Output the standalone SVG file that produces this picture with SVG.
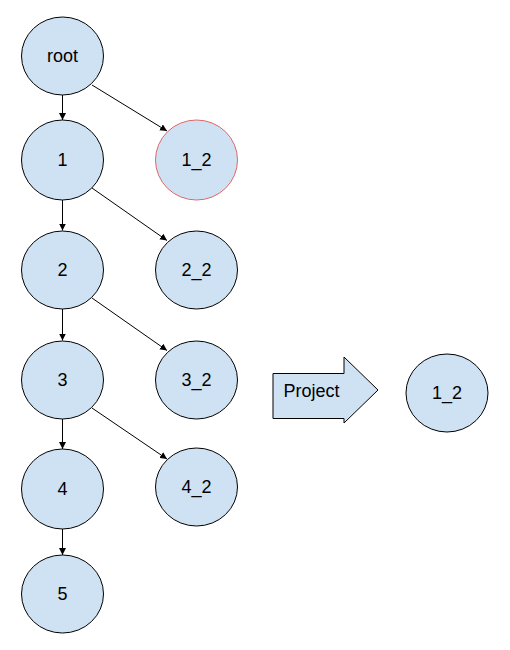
<svg xmlns="http://www.w3.org/2000/svg" width="510" height="650" viewBox="0 0 510 650">
<style>
.n{fill:#cfe2f3;stroke:#000;stroke-width:1}
.r{fill:#cfe2f3;stroke:#e06666;stroke-width:1}
.t{font-family:"Liberation Sans",Arial,sans-serif;font-size:18px;fill:#000;text-anchor:middle;dominant-baseline:central}
.e{stroke:#000;stroke-width:1;fill:none;marker-end:url(#ah)}
</style>
<defs>
<marker id="ah" viewBox="0 0 10 10" refX="10" refY="5" markerWidth="7" markerHeight="7" markerUnits="userSpaceOnUse" orient="auto">
<path d="M0,0 L10,5 L0,10 z" fill="#000"/>
</marker>
</defs>
<rect width="510" height="650" fill="#fff"/>
<g id="connectors">
<line class="e" x1="62.5" y1="95" x2="62.5" y2="120"/>
<line class="e" x1="62.5" y1="200" x2="62.5" y2="230.5"/>
<line class="e" x1="62.5" y1="309" x2="62.5" y2="340.5"/>
<line class="e" x1="62.5" y1="419" x2="62.5" y2="449"/>
<line class="e" x1="62.5" y1="528" x2="62.5" y2="555"/>
<line class="e" x1="92" y1="85" x2="167" y2="131"/>
<line class="e" x1="92" y1="188" x2="167" y2="240.5"/>
<line class="e" x1="92" y1="298" x2="167" y2="350.5"/>
<line class="e" x1="92" y1="408" x2="167" y2="459"/>
</g>
<g id="root"><ellipse class="n" cx="62.5" cy="56" rx="41" ry="39"/><text class="t" x="62.5" y="56">root</text></g>
<g id="n1"><ellipse class="n" cx="62.5" cy="160" rx="41" ry="40"/><text class="t" x="62.5" y="160">1</text></g>
<g id="n2"><ellipse class="n" cx="62.5" cy="270" rx="41" ry="39"/><text class="t" x="62.5" y="270">2</text></g>
<g id="n3"><ellipse class="n" cx="62.5" cy="380" rx="41" ry="39"/><text class="t" x="62.5" y="380">3</text></g>
<g id="n4"><ellipse class="n" cx="62.5" cy="489" rx="41" ry="40"/><text class="t" x="62.5" y="489">4</text></g>
<g id="n5"><ellipse class="n" cx="62.5" cy="594" rx="41" ry="39"/><text class="t" x="62.5" y="594">5</text></g>
<g id="n1_2"><ellipse class="r" cx="196.5" cy="160" rx="41" ry="40"/><text class="t" x="196.5" y="160">1_2</text></g>
<g id="n2_2"><ellipse class="n" cx="196.5" cy="270" rx="41" ry="39"/><text class="t" x="196.5" y="270">2_2</text></g>
<g id="n3_2"><ellipse class="n" cx="196.5" cy="380" rx="41" ry="39"/><text class="t" x="196.5" y="380">3_2</text></g>
<g id="n4_2"><ellipse class="n" cx="196.5" cy="487" rx="41" ry="39"/><text class="t" x="196.5" y="487">4_2</text></g>
<g id="project"><path class="n" d="M273,373.5 L344,373.5 L344,357 L378,390 L344,423 L344,418.5 L273,418.5 Z"/><text class="t" x="311.5" y="391">Project</text></g>
<g id="result"><ellipse class="n" cx="447" cy="393" rx="41" ry="39"/><text class="t" x="447" y="393">1_2</text></g>
</svg>
